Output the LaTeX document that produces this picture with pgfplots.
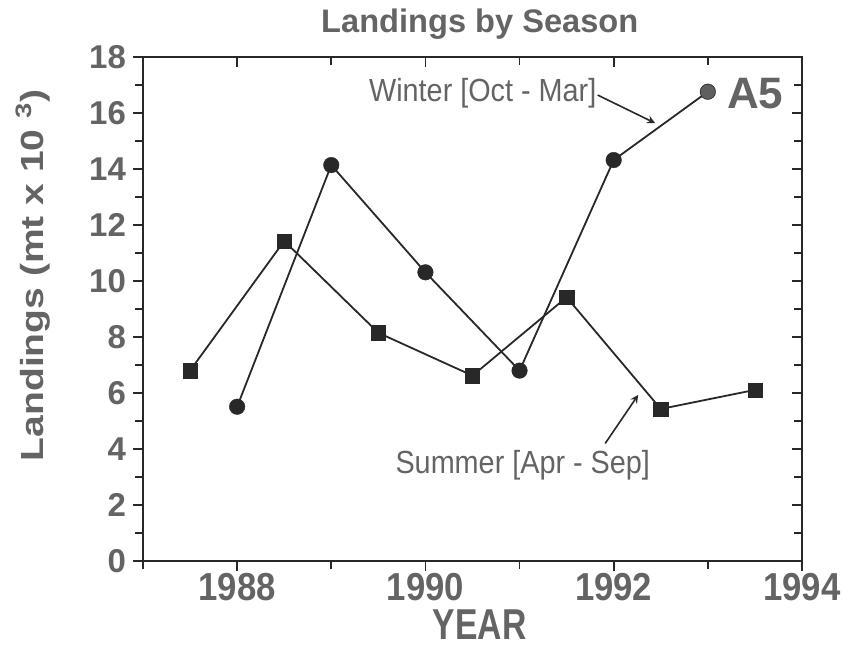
\documentclass[border=0pt]{standalone}
\usepackage{fontspec}
\setmainfont{Liberation Sans}
\newfontfamily\condf[FakeStretch=0.89]{Liberation Sans}
\newfontfamily\yearf[FakeStretch=0.78]{Liberation Sans}
\newfontfamily\annf[FakeStretch=0.9]{Liberation Sans}
\newfontfamily\widef[FakeStretch=1.22]{Liberation Sans}
\usepackage{pgfplots}
\pgfplotsset{compat=1.18}
\definecolor{tgray}{RGB}{100,100,100}
\definecolor{lgray}{RGB}{40,40,40}
\definecolor{mgray}{RGB}{95,95,95}
\begin{document}
\begin{tikzpicture}
\pgfplotsset{
  common/.style={
    scale only axis, width=329.5pt, height=252pt,
    xmin=1987, xmax=1994, ymin=0, ymax=18,
    xtick={1988,1990,1992,1994}, minor xtick={1987,1989,1991,1993},
    ytick={0,2,...,18}, minor ytick={1,3,...,17},
    axis line style={lgray, line width=1pt},
    major tick style={lgray, line width=0.9pt},
    minor tick style={lgray, line width=0.9pt},
    major tick length=5pt, minor tick length=4pt,
  },
  every axis title shift=0pt,
}
\begin{axis}[common, name=ax,
    xtick pos=bottom, ytick pos=left, tick align=outside,
    /pgf/number format/.cd, 1000 sep={}, assume math mode=true, /pgfplots/.cd,
    xticklabel style={font=\condf\bfseries\fontsize{19.5}{19.5}\selectfont, text=tgray, yshift=2.5pt},
    yticklabel style={font=\bfseries\fontsize{16.5}{16.5}\selectfont, text=tgray},
    title={Landings by Season},
    title style={font=\bfseries\fontsize{16.3}{17}\selectfont, text=tgray, at={(axis description cs:0.511,1.066)}, anchor=center},
    xlabel={YEAR},
    xlabel style={font=\yearf\bfseries\fontsize{21.6}{21.6}\selectfont, text=tgray, inner sep=0pt, at={(axis description cs:0.511,-0.127)}, anchor=center},
    ylabel={Landings (mt x 10 \textsuperscript{3})},
    ylabel style={font=\widef\bfseries\fontsize{16}{16}\selectfont, text=tgray, at={(axis description cs:-0.167,0.567)}, anchor=center},
    clip=false,
]
% Summer [Apr - Sep]
\addplot[lgray, line width=0.9pt, mark=square*, mark size=3.6pt, mark options={fill=lgray, draw=lgray, line width=0.2pt}]
coordinates {(1987.5,6.80) (1988.5,11.43) (1989.5,8.15) (1990.5,6.62) (1991.5,9.42) (1992.5,5.43) (1993.5,6.11)};
% Winter [Oct - Mar]
\addplot[lgray, line width=0.9pt, mark=*, mark size=3.9pt, mark options={fill=lgray, draw=lgray, line width=0.2pt}]
coordinates {(1988,5.51) (1989,14.14) (1990,10.31) (1991,6.80) (1992,14.32) (1993,16.76)};
\addplot[only marks, mark=*, mark size=3.4pt, mark options={fill=mgray, draw=mgray}]
coordinates {(1993,16.76)};
\node[anchor=east, inner sep=0pt, font=\annf\fontsize{16}{16}\selectfont, text=tgray] at (axis cs:1991.82,16.71) {Winter [Oct - Mar]};
\draw[-stealth, lgray, line width=0.8pt] (axis cs:1991.83,16.64) -- (axis cs:1992.44,15.64);
\node[anchor=east, inner sep=0pt, font=\annf\fontsize{16}{16}\selectfont, text=tgray] at (axis cs:1992.39,3.43) {Summer [Apr - Sep]};
\draw[-stealth, lgray, line width=0.8pt] (axis cs:1991.91,4.20) -- (axis cs:1992.26,5.93);
\node[anchor=west, inner sep=0pt, font=\bfseries\fontsize{22}{22}\selectfont, text=tgray] at (axis cs:1993.2,16.71) {A5};
\end{axis}
\begin{axis}[common, at={(ax.south west)}, anchor=south west,
    xtick pos=top, ytick pos=right, tick align=inside,
    xticklabels={}, yticklabels={}]
\end{axis}
\pgfresetboundingbox
\path[use as bounding box] (ax.south west) ++(-71.5pt,-42pt) rectangle ++(421.5pt,322.5pt);
\end{tikzpicture}
\end{document}
